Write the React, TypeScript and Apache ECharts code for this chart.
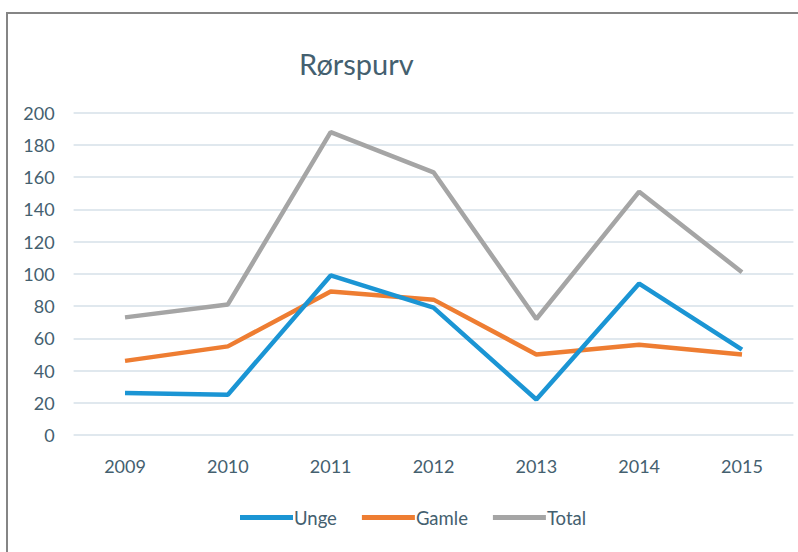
import React, { useEffect, useRef } from "react";
import * as echarts from "echarts";

const years = ["2009", "2010", "2011", "2012", "2013", "2014", "2015"];
const unge = [26, 25, 99, 79, 22, 94, 53];
const gamle = [46, 55, 89, 84, 50, 56, 50];
const total = [73, 81, 188, 163, 72, 151, 101];
const seriesNames = ["Unge", "Gamle", "Total"];
const titleText = "Rørspurv";

const TEXT = "#44606f";
const FONT = "Lato, 'Open Sans', sans-serif";

export default function App() {
  const ref = useRef<HTMLDivElement>(null);
  useEffect(() => {
    if (!ref.current) return;
    const chart = echarts.init(ref.current, undefined, { renderer: "svg" });
    const colors = ["#1b95d4", "#ee7d32", "#a5a5a5"];
    const data = [unge, gamle, total];
    chart.setOption({
      animation: false,
      backgroundColor: "#ffffff",
      title: {
        text: titleText,
        left: 294,
        top: 44,
        textStyle: { fontFamily: FONT, fontSize: 29, fontWeight: "normal", color: TEXT },
      },
      legend: {
        data: seriesNames,
        bottom: 20,
        left: 235,
        icon: "rect",
        itemWidth: 53,
        itemHeight: 5,
        itemGap: 25,
        textStyle: { fontFamily: FONT, fontSize: 18.5, color: TEXT, padding: [0, 0, 0, -4] },
      },
      grid: { left: 73.6, right: 4.6, top: 112.7, bottom: 117, containLabel: false },
      xAxis: {
        type: "category",
        data: years,
        boundaryGap: true,
        axisLine: { show: false },
        axisTick: { show: false },
        axisLabel: { fontFamily: FONT, fontSize: 18, color: TEXT, margin: 22 },
      },
      yAxis: {
        type: "value",
        min: 0,
        max: 200,
        interval: 20,
        axisLine: { show: false },
        axisTick: { show: false },
        axisLabel: { fontFamily: FONT, fontSize: 18, color: TEXT, margin: 19 },
        splitLine: { lineStyle: { color: "#d6e1e9", width: 1.5 } },
      },
      graphic: [
        { type: "line", shape: { x1: 6, y1: 13, x2: 798, y2: 13 }, style: { stroke: "#858585", lineWidth: 2 } },
        { type: "line", shape: { x1: 7, y1: 12, x2: 7, y2: 552 }, style: { stroke: "#858585", lineWidth: 2 } },
      ],
      series: seriesNames.map((name, i) => ({
        name,
        type: "line",
        data: data[i],
        symbol: "none",
        color: colors[i],
        lineStyle: { width: 4.5, color: colors[i] },
        z: 3 - i,
      })),
    });
    return () => chart.dispose();
  }, []);
  return <div ref={ref} style={{ position: "absolute", left: 0, top: 0, width: 798, height: 552 }} />;
}
